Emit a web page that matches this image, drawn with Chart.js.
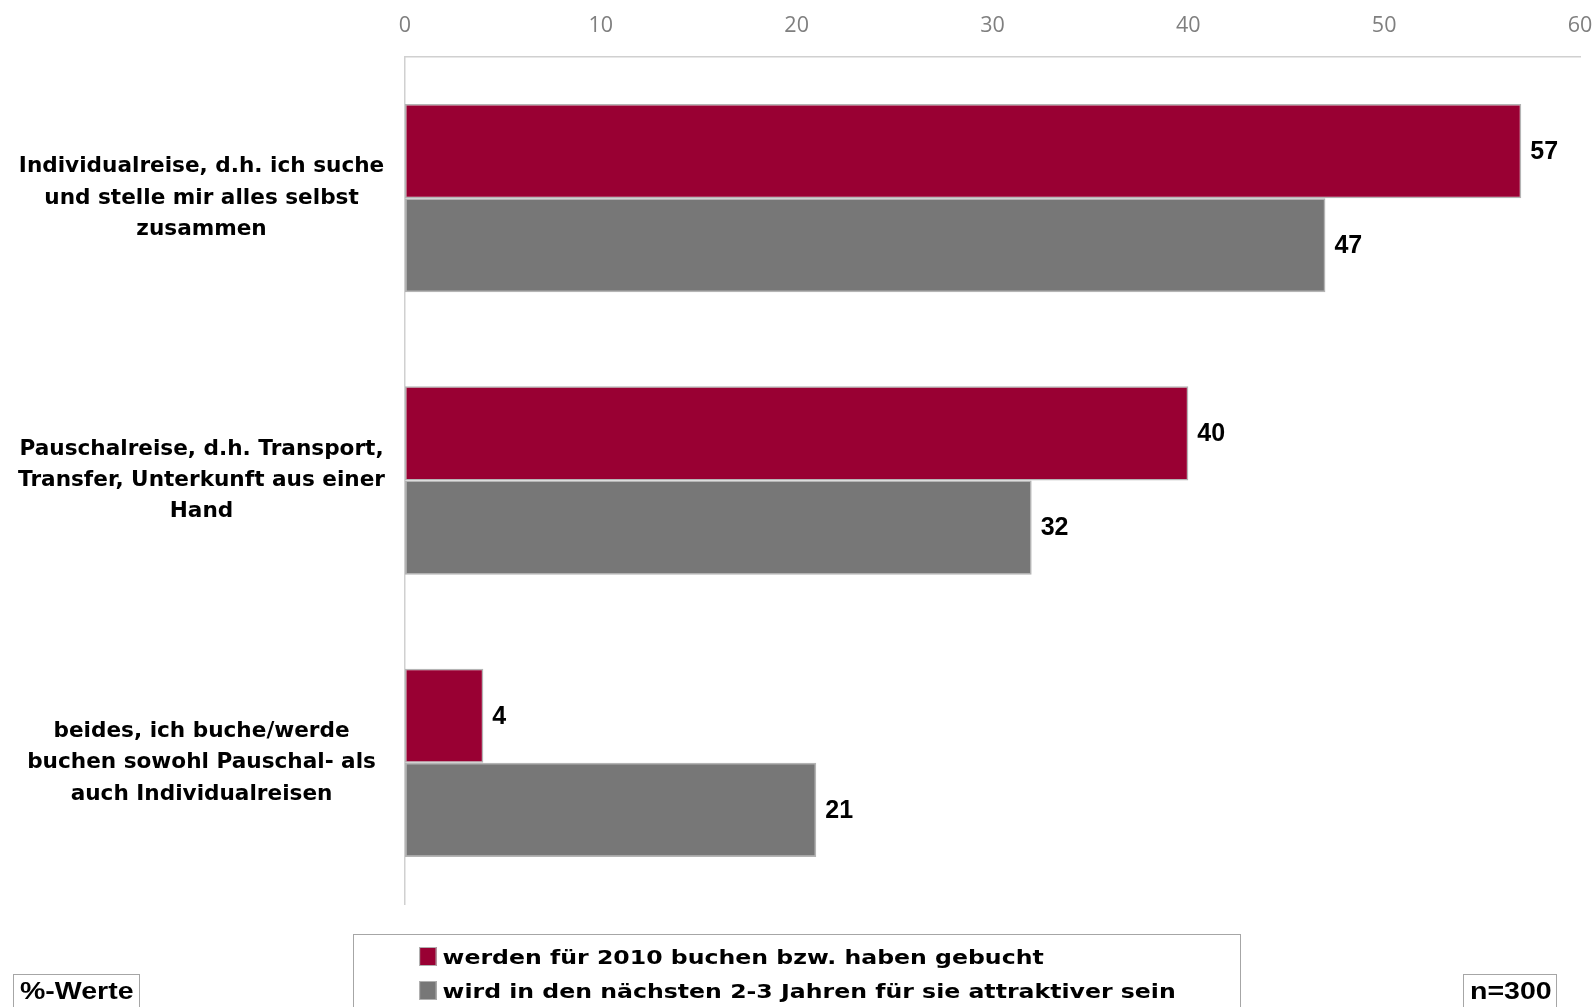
<!DOCTYPE html>
<html>
<head>
<meta charset="utf-8">
<script src="https://cdn.jsdelivr.net/npm/chart.js@4"></script>
<style>
    body { margin: 0; background: #fff; }
    #wrap { position: relative; width: 1596px; height: 1007px; overflow: hidden; }
    .legend {
        position: absolute; left: 353px; top: 934px; width: 886px; height: 90px;
        border: 1px solid #a6a6a6; font-family: "DejaVu Sans", Verdana, sans-serif;
        font-weight: bold; font-size: 20px; color: #000;
    }
    .legend .item {
        position: absolute; left: 65px; white-space: nowrap; line-height: 34px;
        transform: scaleX(1.18); transform-origin: left center;
    }
    .legend .mark {
        display: inline-block; width: 15px; height: 19px; margin-right: 5px;
        vertical-align: -2px; border: 1px solid #b0b0b0; box-sizing: border-box;
    }
    .box {
        position: absolute; top: 974px; height: 50px; border: 1px solid #a6a6a6;
        font-family: "Liberation Sans", Arial, sans-serif; font-weight: bold;
        font-size: 23px; line-height: 32px; padding: 0 6px; box-sizing: border-box;
    }
    .box span { display: inline-block; transform: scaleX(1.24); transform-origin: left center; }
</style>
</head>
<body>
<div id="wrap">
    <canvas id="reiseChart"></canvas>
    <div class="legend" id="legend"></div>
    <div class="box" style="left:13px; width:127px;"><span>%-Werte</span></div>
    <div class="box" style="left:1463px; width:94px;"><span>n=300</span></div>
</div>
<script>
// Kategorien (mehrzeilig)
const categories = [
    ['Individualreise, d.h. ich suche', 'und stelle mir alles selbst', 'zusammen'],
    ['Pauschalreise, d.h. Transport,', 'Transfer, Unterkunft aus einer', 'Hand'],
    ['beides, ich buche/werde', 'buchen sowohl Pauschal- als', 'auch Individualreisen']
];
const seriesNames = [
    'werden für 2010 buchen bzw. haben gebucht',
    'wird in den nächsten 2-3 Jahren für sie attraktiver sein'
];
const booked = [57, 40, 4];
const attractive = [47, 32, 21];
const xTicks = [0, 10, 20, 30, 40, 50, 60];
const colors = ['#990033', '#777777'];

// Werte neben den Balken
const valueLabels = {
    id: 'valueLabels',
    afterDatasetsDraw(chart) {
        const ctx = chart.ctx;
        ctx.save();
        ctx.font = 'bold 25px "Liberation Sans"';
        ctx.fillStyle = '#000';
        ctx.textBaseline = 'middle';
        chart.data.datasets.forEach((ds, i) => {
            chart.getDatasetMeta(i).data.forEach((bar, j) => {
                ctx.fillText(ds.data[j], bar.x + 9, bar.y + 1);
            });
        });
        ctx.restore();
    }
};

const ctx = document.getElementById('reiseChart').getContext('2d');
const chart = new Chart(ctx, {
    type: 'bar',
    data: {
        labels: categories,
        datasets: [
            { label: seriesNames[0], data: booked, backgroundColor: colors[0] },
            { label: seriesNames[1], data: attractive, backgroundColor: colors[1] }
        ]
    },
    options: {
        indexAxis: 'y',
        responsive: true,
        maintainAspectRatio: false,
        animation: false,
        datasets: {
            bar: {
                categoryPercentage: 0.667,
                barPercentage: 1,
                borderColor: '#b4b4b4',
                borderWidth: 1.5,
                borderSkipped: false
            }
        },
        layout: { padding: { left: 0, right: 16, top: 10, bottom: 103 } },
        scales: {
            x: {
                position: 'top',
                min: 0,
                max: 60,
                afterBuildTicks: scale => { scale.ticks = xTicks.map(v => ({ value: v })); },
                afterFit: scale => {
                    scale.height = 47;
                    scale.paddingLeft = 0;
                    scale.paddingRight = 0;
                },
                grid: { display: false, drawTicks: false },
                border: { display: true, color: '#d0d0d0', width: 1.5 },
                ticks: {
                    padding: 18,
                    color: '#7f7f7f',
                    font: { family: 'Open Sans', size: 21.5 }
                }
            },
            y: {
                afterFit: scale => {
                    scale.width = 405;
                    scale.paddingTop = 0;
                    scale.paddingBottom = 0;
                },
                grid: { display: false, drawTicks: false },
                border: { display: true, color: '#d0d0d0', width: 1.5 },
                ticks: {
                    crossAlign: 'center',
                    padding: 20,
                    color: '#000',
                    font: { family: 'DejaVu Sans', size: 21.6, weight: 'bold', lineHeight: 1.45 }
                }
            }
        },
        plugins: {
            legend: { display: false },
            tooltip: { enabled: false }
        }
    },
    plugins: [valueLabels]
});

// Legende als HTML
const legend = document.getElementById('legend');
seriesNames.forEach((name, i) => {
    const item = document.createElement('div');
    item.className = 'item';
    item.style.top = (5 + i * 34) + 'px';
    item.innerHTML = '<span class="mark" style="background:' + colors[i] + '"></span>' + name;
    legend.appendChild(item);
});
</script>
</body>
</html>
